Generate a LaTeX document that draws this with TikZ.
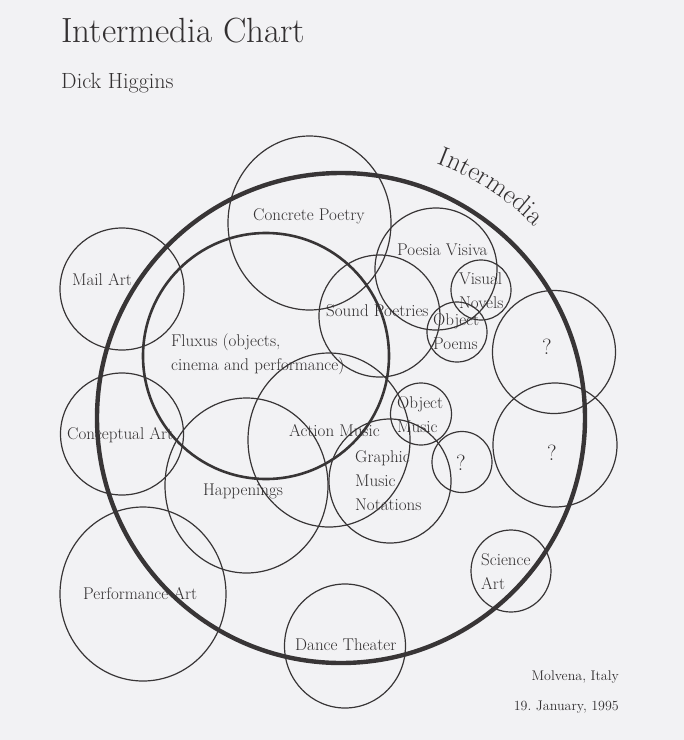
\documentclass[tikz,border=0pt]{standalone}
\usepackage{tikz}
\usetikzlibrary{decorations.text}
\definecolor{paper}{HTML}{F2F2F4}
\definecolor{ink}{HTML}{383536}
\definecolor{type}{HTML}{333031}

\tikzset{
  ring/.style={draw=ink, line width=1.2pt},
  tag/.style={text=type, inner sep=0pt, anchor=west, align=left,
    font=\fontsize{17}{24}\selectfont},
  query/.style={text=type, inner sep=0pt, font=\fontsize{22}{22}\selectfont},
  note/.style={text=type, inner sep=0pt, anchor=base east,
    font=\fontsize{14}{14}\selectfont},
}

\begin{document}
\begin{tikzpicture}[x=1pt, y=-1pt]
\fill[paper] (0,0) rectangle (684,740);
\useasboundingbox (0,0) rectangle (684,740);

% centres of the media
\coordinate (I) at (341, 418);
\coordinate (F) at (266, 356);
\coordinate (CP) at (309.5, 223);
\coordinate (PV) at (436, 269);
\coordinate (VN) at (481, 290);
\coordinate (SP) at (379.5, 316);
\coordinate (OP) at (457, 332);
\coordinate (Q1) at (554, 352);
\coordinate (Q2) at (555, 445);
\coordinate (Q3) at (462, 462);
\coordinate (MA) at (122, 289);
\coordinate (CA) at (122, 434);
\coordinate (HA) at (246.5, 485.5);
\coordinate (AM) at (329, 440);
\coordinate (GM) at (390, 481);
\coordinate (OM) at (421, 414);
\coordinate (SA) at (511, 571);
\coordinate (PA) at (143, 594);
\coordinate (DT) at (345, 646);

\draw[ring] (CP) ellipse [x radius=81.5, y radius=87];
\draw[ring] (PV) ellipse [x radius=61, y radius=61];
\draw[ring] (VN) ellipse [x radius=30, y radius=30];
\draw[ring] (SP) ellipse [x radius=60.5, y radius=61];
\draw[ring] (OP) ellipse [x radius=30, y radius=30];
\draw[ring] (Q1) ellipse [x radius=61.5, y radius=61.5];
\draw[ring] (Q2) ellipse [x radius=62, y radius=62];
\draw[ring] (Q3) ellipse [x radius=30, y radius=30.5];
\draw[ring] (MA) ellipse [x radius=62, y radius=61];
\draw[ring] (CA) ellipse [x radius=61.5, y radius=61];
\draw[ring] (HA) ellipse [x radius=81.5, y radius=87.5];
\draw[ring] (AM) ellipse [x radius=81, y radius=87];
\draw[ring] (GM) ellipse [x radius=61, y radius=62];
\draw[ring] (OM) ellipse [x radius=30.5, y radius=31];
\draw[ring] (SA) ellipse [x radius=40, y radius=41];
\draw[ring] (PA) ellipse [x radius=83, y radius=87];
\draw[ring] (DT) ellipse [x radius=60.5, y radius=62];

\draw[ink, line width=2.6pt] (F) ellipse [x radius=123, y radius=123];
\draw[ink, line width=4.4pt] (I) ellipse [x radius=244, y radius=245];

\path[decorate, decoration={text along path, text align=center,
    text format delimiters={|}{|},
    text={|\fontsize{27}{27}\selectfont\color{type}|Intermedia}}]
  ([shift={(-90:272)}]I) arc [start angle=-90, end angle=-24, radius=272];

\node[text=type, inner sep=0pt, anchor=base west, font=\fontsize{35}{35}\selectfont]
  (title) at (61, 42) {Intermedia Chart};
\node[text=type, inner sep=0pt, anchor=base west, font=\fontsize{22}{22}\selectfont]
  (author) at (61, 88) {Dick Higgins};

\node[tag] (concrete) at (253, 216) {Concrete Poetry};
\node[tag] (poesia) at (397, 250) {Poesia Visiva};
\node[tag] (novels) at (459, 290.5) {Visual\\Novels};
\node[tag] (sound) at (326, 311) {Sound Poetries};
\node[tag] (poems) at (433, 332) {Object\\Poems};
\node[tag] (mail) at (72, 280) {Mail Art};
\node[tag] (fluxus) at (171, 354.5) {Fluxus (objects,\\cinema and performance)};
\node[tag] (concept) at (67, 435) {Conceptual Art};
\node[tag] (action) at (289, 431) {Action Music};
\node[tag] (objmusic) at (397, 415) {Object\\Music};
\node[tag] (graphic) at (355, 481) {Graphic\\Music\\Notations};
\node[tag] (happen) at (203, 491) {Happenings};
\node[tag] (perform) at (83, 594) {Performance Art};
\node[tag] (dance) at (295, 645) {Dance Theater};
\node[tag] (science) at (481, 572) {Science\\Art};

\node[query] (query1) at (547, 347) {?};
\node[query] (query2) at (552, 453) {?};
\node[query] (query3) at (461, 463) {?};

\node[note] (place) at (619, 680) {Molvena, Italy};
\node[note] (date) at (619, 710) {19.\ January, 1995};
\end{tikzpicture}
\end{document}
